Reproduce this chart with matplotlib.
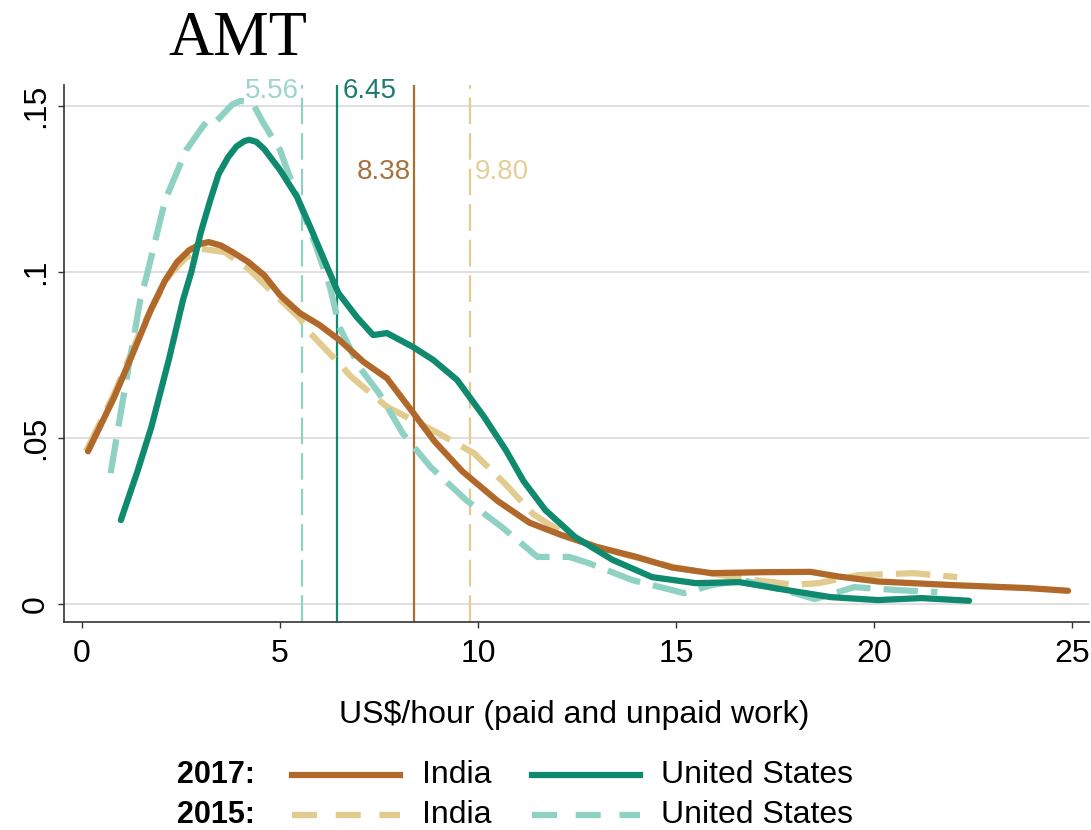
import matplotlib
matplotlib.use("Agg")
import matplotlib.pyplot as plt
from matplotlib.lines import Line2D

plt.rcParams['font.family'] = ['Liberation Sans', 'DejaVu Sans']

# kernel density curves (US$/hour, density)
india_2017_x = [0.15, 0.8, 1.3, 1.75, 2.1, 2.4, 2.7, 3.0, 3.2, 3.5, 3.8, 4.2, 4.6, 5.0, 5.5, 6.0,
                6.5, 7.1, 7.7, 8.4, 8.9, 9.6, 10.5, 11.3, 12.1, 13.0, 14.0, 14.9, 15.9, 17.2, 18.4,
                19.1, 20.1, 22.0, 23.9, 24.9]
india_2017_y = [0.046, 0.062, 0.076, 0.089, 0.0975, 0.103, 0.1065, 0.1085, 0.109, 0.108, 0.106,
                0.103, 0.099, 0.093, 0.0876, 0.084, 0.0795, 0.073, 0.068, 0.057, 0.049, 0.040,
                0.031, 0.0245, 0.0208, 0.0172, 0.0142, 0.011, 0.0093, 0.0096, 0.0097, 0.0083,
                0.0068, 0.0057, 0.0048, 0.004]

us_2017_x = [0.98, 1.4, 1.75, 2.2, 2.55, 2.76, 3.0, 3.24, 3.45, 3.69, 3.9, 4.1, 4.22, 4.4, 4.6,
             5.0, 5.43, 5.76, 6.19, 6.47, 6.94, 7.35, 7.7, 8.36, 8.87, 9.47, 10.15, 10.7, 11.15,
             11.7, 12.45, 13.4, 14.4, 15.5, 16.6, 17.8, 18.9, 20.1, 21.2, 22.4]
us_2017_y = [0.0253, 0.040, 0.0533, 0.074, 0.0916, 0.100, 0.112, 0.1217, 0.1295, 0.1346, 0.1378,
             0.1394, 0.1398, 0.1392, 0.1370, 0.1307, 0.1226, 0.1136, 0.1015, 0.0937, 0.0864,
             0.081, 0.0816, 0.0774, 0.0735, 0.0675, 0.0564, 0.0464, 0.037, 0.0283, 0.0202,
             0.0133, 0.0081, 0.0063, 0.0066, 0.0042, 0.0021, 0.0012, 0.0018, 0.001]

india_2015_x = [0.1, 0.8, 1.5, 2.2, 2.6, 3.0, 3.6, 4.2, 4.8, 5.5, 5.76, 6.45, 6.8, 7.7, 9.0, 9.9,
                10.7, 11.4, 12.2, 13.0, 14.0, 15.0, 16.0, 17.0, 18.0, 18.6, 19.6, 21.0, 22.1]
india_2015_y = [0.046, 0.063, 0.083, 0.099, 0.104, 0.107, 0.106, 0.101, 0.094, 0.086, 0.0816, 0.073,
                0.0684, 0.0594, 0.0514, 0.0454, 0.036, 0.027, 0.021, 0.0172, 0.014, 0.011, 0.009,
                0.0072, 0.0058, 0.0063, 0.0087, 0.0093, 0.0081]

us_2015_x = [0.72, 1.03, 1.47, 1.65, 2.1, 2.63, 3.0, 3.2, 3.4, 3.6, 3.8, 4.0, 4.3, 4.57, 5.0, 5.43,
             5.9, 6.26, 6.5, 7.0, 7.5, 8.1, 8.8, 9.7, 10.6, 11.5, 12.3, 12.8, 13.9, 15.2, 15.9,
             16.7, 18.0, 18.5, 19.5, 20.6, 21.6]
us_2015_y = [0.0394, 0.0614, 0.0916, 0.0997, 0.1217, 0.1367, 0.143, 0.146, 0.1455, 0.148, 0.1505,
             0.1515, 0.151, 0.145, 0.1367, 0.1226, 0.108, 0.0955, 0.0834, 0.0714, 0.0635, 0.0514,
             0.0413, 0.0313, 0.0232, 0.0142, 0.0142, 0.0123, 0.0072, 0.0033, 0.0057, 0.0072,
             0.0033, 0.0015, 0.0051, 0.0042, 0.0036]

# medians
med_values = [5.56, 6.45, 8.38, 9.80]
med_labels = ['5.56', '6.45', '8.38', '9.80']

c_in17 = '#B0692A'
c_us17 = '#0F8A6E'
c_in15 = '#E2CB8E'
c_us15 = '#8FD2C3'

fig = plt.figure(figsize=(10.91, 8.30), dpi=100)
ax = fig.add_axes([0.0587, 0.2506, 0.9395, 0.647])

ax.set_xlim(-0.455, 25.43)
ax.set_ylim(-0.0054, 0.1563)

ax.set_yticks([0, 0.05, 0.1, 0.15])
ax.set_yticklabels(['0', '.05', '.1', '.15'], rotation=90, va='center')
ax.set_xticks([0, 5, 10, 15, 20, 25])
ax.yaxis.grid(True, color='#dcdcdc', lw=1.3)
ax.set_axisbelow(True)

for s in ['top', 'right']:
    ax.spines[s].set_visible(False)
for s in ['left', 'bottom']:
    ax.spines[s].set_color('#333333')
    ax.spines[s].set_linewidth(1.2)
ax.tick_params(axis='both', direction='out', length=4.5, width=1, color='#333333', labelsize=23)
ax.tick_params(axis='x', pad=8)
ax.tick_params(axis='y', pad=5)

# vertical median lines
ax.axvline(med_values[0], color=c_us15, lw=1.6, dashes=(12, 4))
ax.axvline(med_values[1], color=c_us17, lw=1.6)
ax.axvline(med_values[2], color='#A8702F', lw=1.6)
ax.axvline(med_values[3], color=c_in15, lw=1.6, dashes=(12, 4))

ax.text(med_values[0] - 0.08, 0.1545, med_labels[0], ha='right', va='center', fontsize=20, color='#9ED5C8')
ax.text(med_values[1] + 0.12, 0.1545, med_labels[1], ha='left', va='center', fontsize=20, color='#1C7B70')
ax.text(med_values[2] - 0.08, 0.130, med_labels[2], ha='right', va='center', fontsize=20, color='#A5733F')
ax.text(med_values[3] + 0.12, 0.130, med_labels[3], ha='left', va='center', fontsize=20, color='#E3CF98')

# curves
ax.plot(india_2015_x, india_2015_y, color=c_in15, lw=4.5, dashes=(5.5, 2.1))
ax.plot(us_2015_x, us_2015_y, color=c_us15, lw=4.5, dashes=(5.5, 2.1))
ax.plot(india_2017_x, india_2017_y, color=c_in17, lw=4.5, solid_capstyle='round', solid_joinstyle='round')
ax.plot(us_2017_x, us_2017_y, color=c_us17, lw=4.5, solid_capstyle='round', solid_joinstyle='round')

# title and axis label
fig.text(168 / 1091, 1 - 55 / 830, 'AMT', family='Liberation Serif', fontsize=45, va='baseline')
fig.text(0.526, 0.1386, 'US$/hour (paid and unpaid work)', ha='center', va='center', fontsize=23)

# legend drawn by hand
rows = [(0.0663, '2017:', c_in17, c_us17, None), (0.0181, '2015:', c_in15, c_us15, (4.0, 3.0))]
for y, yr, ci, cu, ds in rows:
    fig.text(255 / 1091, y, yr, ha='right', va='center', fontsize=22, fontweight='bold')
    for x0, x1, col, lab, xl in [(292, 400, ci, 'India', 422), (532, 640, cu, 'United States', 661)]:
        ln = Line2D([x0 / 1091, x1 / 1091], [y, y], transform=fig.transFigure, color=col, lw=4.5)
        if ds:
            ln.set_dashes(ds)
        fig.add_artist(ln)
        fig.text(xl / 1091, y, lab, ha='left', va='center', fontsize=23)

fig.savefig('out.png', dpi=100)
